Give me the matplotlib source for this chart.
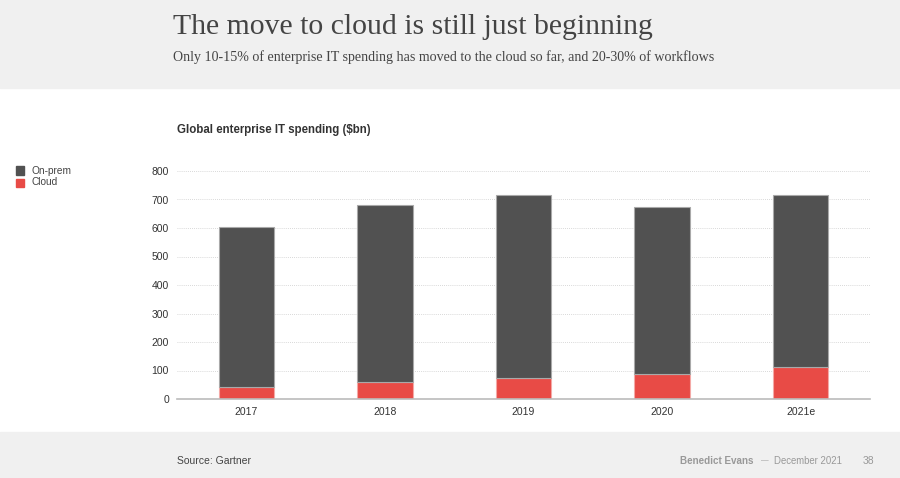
import matplotlib
matplotlib.use("Agg")
import matplotlib.pyplot as plt
from matplotlib.patches import Rectangle

years = ["2017", "2018", "2019", "2020", "2021e"]
cloud = [42, 59, 74, 88, 112]
total = [604, 681, 716, 672, 717]
onprem = [t - c for t, c in zip(total, cloud)]
yticks = [0, 100, 200, 300, 400, 500, 600, 700, 800]

ONPREM = "#515151"
CLOUD = "#e84b46"

plt.rcParams['font.family'] = ['Liberation Sans', 'DejaVu Sans']

fig = plt.figure(figsize=(9, 4.78), dpi=100)
W, H = 900, 478

def fy(px):
    return 1 - px / H

def fx(px):
    return px / W

# background bands
fig.patches.append(Rectangle((0, fy(88)), 1, 88 / H, transform=fig.transFigure,
                             color="#f0f0f0", zorder=0))
fig.patches.append(Rectangle((0, 0), 1, (H - 432) / H, transform=fig.transFigure,
                             color="#f0f0f0", zorder=0))

serif = ['Liberation Serif', 'DejaVu Serif']
fig.text(fx(173), fy(34.5), "The move to cloud is still just beginning",
         family=serif, fontsize=21.4, color="#444444", va="baseline", ha="left")
fig.text(fx(173), fy(61), "Only 10-15% of enterprise IT spending has moved to the cloud so far, and 20-30% of workflows",
         family=serif, fontsize=10.1, color="#444444", va="baseline", ha="left")

fig.text(fx(177), fy(130), "Global enterprise IT spending ($bn)", fontsize=8.3,
         fontweight="bold", color="#333333", va="center", ha="left")

# legend
fig.patches.append(Rectangle((fx(16), fy(174.5)), 8 / W, 8 / H, transform=fig.transFigure,
                             color=ONPREM, zorder=2))
fig.patches.append(Rectangle((fx(16), fy(186.5)), 8 / W, 8 / H, transform=fig.transFigure,
                             color=CLOUD, zorder=2))
fig.text(fx(31), fy(170.7), "On-prem", fontsize=7.3, color="#444444", va="center", ha="left")
fig.text(fx(31), fy(182.3), "Cloud", fontsize=7.3, color="#444444", va="center", ha="left")

ax = fig.add_axes([fx(177), fy(399), (870 - 177) / W, (399 - 171) / H])
ax.set_facecolor("none")
x = list(range(len(years)))
ax.bar(x, cloud, width=0.4, color=CLOUD, edgecolor="#f4a9a6", linewidth=0.8, zorder=3)
ax.bar(x, onprem, bottom=cloud, width=0.4, color=ONPREM, edgecolor="#a9a9a9",
       linewidth=0.8, zorder=3)

ax.set_xlim(-0.5, len(years) - 0.5)
ax.set_ylim(0, 800)
ax.set_yticks(yticks)
ax.set_yticklabels([str(v) for v in yticks])
ax.set_xticks(x)
ax.set_xticklabels(years)
ax.tick_params(axis="both", length=0, labelsize=7.5, labelcolor="#333333")
ax.tick_params(axis="y", pad=5.8)
ax.tick_params(axis="x", pad=6)
for s in ["top", "right", "left"]:
    ax.spines[s].set_visible(False)
ax.spines["bottom"].set_color("#bbbbbb")
ax.spines["bottom"].set_linewidth(1.2)
ax.spines["bottom"].set_zorder(4)
ax.grid(axis="y", linestyle=(0, (1, 1.5)), color="#cccccc", linewidth=0.6, zorder=0)
ax.set_axisbelow(True)

fig.text(fx(177), fy(461), "Source: Gartner", fontsize=7.5, color="#444444",
         va="center", ha="left")
fig.text(fx(874), fy(461), "38", fontsize=7.5, color="#999999", va="center", ha="right")
fig.text(fx(842), fy(461), "December 2021", fontsize=6.9, color="#999999",
         va="center", ha="right")
fig.text(fx(764.5), fy(461), "—", fontsize=5.5, color="#999999",
         va="center", ha="center")
fig.text(fx(753), fy(461), "Benedict Evans", fontsize=7.1, color="#999999",
         fontweight="bold", va="center", ha="right")

fig.savefig("out.png", dpi=100)
